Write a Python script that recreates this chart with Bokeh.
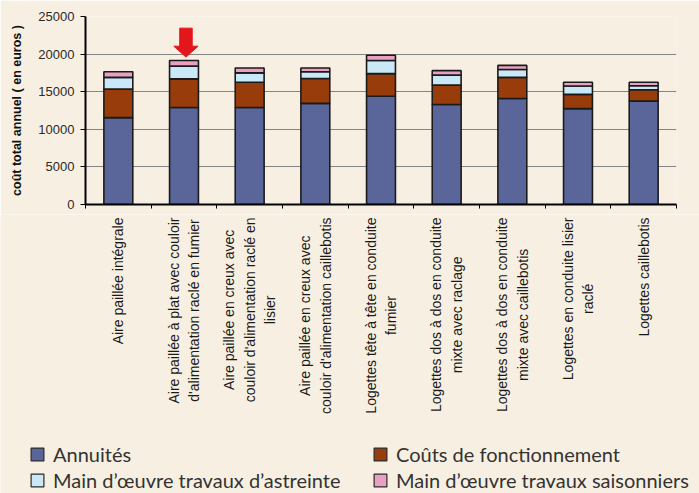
from math import pi
from bokeh.plotting import figure
from bokeh.layouts import column
from bokeh.models import (Range1d, FixedTicker, Label, Legend, LegendItem,
                          ColumnDataSource)
from bokeh.embed import file_html
from bokeh.resources import INLINE

# ---------------- data ----------------
categories = [
    "Aire paillée intégrale",
    "Aire paillée à plat avec couloir\nd'alimentation raclé en fumier",
    "Aire paillée en creux avec\ncouloir d'alimentation raclé en\nlisier",
    "Aire paillée en creux avec\ncouloir d'alimentation caillebotis",
    "Logettes tête à tête en conduite\nfumier",
    "Logettes dos à dos en conduite\nmixte avec raclage",
    "Logettes dos à dos en conduite\nmixte avec caillebotis",
    "Logettes en conduite lisier\nraclé",
    "Logettes caillebotis",
]
annuites = [11550, 12900, 12900, 13450, 14400, 13300, 14100, 12750, 13750]
couts = [3800, 3800, 3350, 3300, 3000, 2600, 2800, 1900, 1500]
astreinte = [1550, 1700, 1250, 900, 1750, 1300, 1050, 1100, 550]
saisonniers = [750, 750, 650, 500, 700, 600, 550, 500, 450]
series_names = ["Annuités", "Coûts de fonctionnement",
                "Main d’œuvre travaux d’astreinte",
                "Main d’œuvre travaux saisonniers"]
y_ticks = [0, 5000, 10000, 15000, 20000, 25000]
highlight_index = 1

# ---------------- styles / layout ----------------
BG = "#F7F0E2"
colors = ["#5A6699", "#983C0C", "#C9E8F8", "#E9A0C2"]
W = 699
FRAME_L, FRAME_R, FRAME_T, FRAME_H = 85, 23, 16, 188
H1 = FRAME_T + FRAME_H + 10
H2 = 493 - H1

n = len(categories)
xs = [i + 0.5 for i in range(n)]
source = ColumnDataSource(dict(x=xs, annuites=annuites, couts=couts,
                               astreinte=astreinte, saisonniers=saisonniers))

p = figure(width=W, height=H1, output_backend="svg", toolbar_location=None,
           x_range=Range1d(0, n), y_range=Range1d(0, 25000),
           min_border_left=FRAME_L, min_border_right=FRAME_R,
           min_border_top=FRAME_T, min_border_bottom=10)
p.frame_align = False
p.background_fill_color = BG
p.border_fill_color = BG
p.outline_line_color = None

renderers = p.vbar_stack(["annuites", "couts", "astreinte", "saisonniers"],
                         x="x", width=0.44, color=colors, source=source,
                         line_color="#1a1a1a", line_width=1.6)

# red arrow above highlighted bar
totals = [a + b + c + d for a, b, c, d in zip(annuites, couts, astreinte, saisonniers)]
cx = xs[highlight_index] + 0.03
tip = totals[highlight_index] + 450
base = tip + 1450
top = base + 2400
hw, sw = 0.185, 0.095
p.patch([cx, cx - hw, cx - sw, cx - sw, cx + sw, cx + sw, cx + hw],
        [tip, base, base, top, top, base, base],
        fill_color="#E3161B", line_color="#E3161B", line_width=1)

# axes
p.xgrid.visible = False
p.ygrid.ticker = FixedTicker(ticks=y_ticks)
p.ygrid.grid_line_color = "#858585"
p.ygrid.grid_line_width = 1

p.xaxis.ticker = FixedTicker(ticks=list(range(n + 1)))
p.xaxis.major_label_text_color = None
p.xaxis.major_label_text_font_size = "1px"
p.xaxis.major_label_standoff = 0
p.xaxis.major_tick_out = 4
p.xaxis.major_tick_in = 0
p.xaxis.minor_tick_line_color = None
p.xaxis.axis_line_width = 2
p.xaxis.axis_line_color = "black"
p.xaxis.major_tick_line_color = "black"

p.yaxis.ticker = FixedTicker(ticks=y_ticks)
p.yaxis.major_tick_out = 5
p.yaxis.major_tick_in = 0
p.yaxis.minor_tick_line_color = None
p.yaxis.axis_line_width = 2
p.yaxis.axis_line_color = "black"
p.yaxis.major_label_text_font = "Liberation Sans"
p.yaxis.major_label_text_font_size = "13px"
p.yaxis.major_label_text_color = "#2a2a2a"
p.yaxis.major_label_standoff = 6
p.yaxis.axis_label = "coût total annuel ( en euros )"
p.yaxis.axis_label_text_font = "Liberation Sans"
p.yaxis.axis_label_text_font_style = "bold"
p.yaxis.axis_label_text_font_size = "12.5px"
p.yaxis.axis_label_text_color = "#111111"
p.yaxis.axis_label_standoff = 11

# ---------------- lower panel: category labels + legend ----------------
px_per_cat = (W - FRAME_L - FRAME_R) / n
p2 = figure(width=W, height=H2, output_backend="svg", toolbar_location=None,
            x_range=Range1d(-FRAME_L / px_per_cat, (W - FRAME_L) / px_per_cat),
            y_range=Range1d(H2, 0),
            x_axis_location=None, y_axis_location=None,
            min_border_left=0, min_border_right=0, min_border_top=0,
            min_border_bottom=0)
p2.frame_align = False
p2.background_fill_color = BG
p2.border_fill_color = BG
p2.outline_line_color = None
p2.grid.visible = False

for x, cat in zip(xs, categories):
    p2.add_layout(Label(x=x, y=3, text=cat,
                        angle=pi / 2, anchor="center_right", text_align="center",
                        text_font="Liberation Sans", text_font_size="14px",
                        text_line_height=1.3, text_color="#1a1a1a"))

# legend swatches: renderers with no drawable data, only their legend glyphs show
nan = float("nan")
legend_renderers = [p2.vbar(x=[nan], bottom=[nan], top=[nan], width=0.5,
                            fill_color=c, line_color="#2a2a2a", line_width=1.2)
                    for c in colors]
items = [LegendItem(label=nm, renderers=[r]) for nm, r in zip(series_names, legend_renderers)]
for its, loc in (([items[0], items[2]], (29, 1)), ([items[1], items[3]], (372, 1))):
    leg = Legend(items=its, location=loc, background_fill_alpha=0,
                 border_line_color=None, padding=0, margin=0, spacing=2,
                 glyph_width=16, glyph_height=16, label_standoff=8,
                 label_height=24,
                 label_text_font="Lato", label_text_font_size="20px",
                 label_text_color="#333333")
    p2.add_layout(leg)

layout = column(p, p2, spacing=0)
open("out.html", "w").write(file_html(layout, INLINE))
